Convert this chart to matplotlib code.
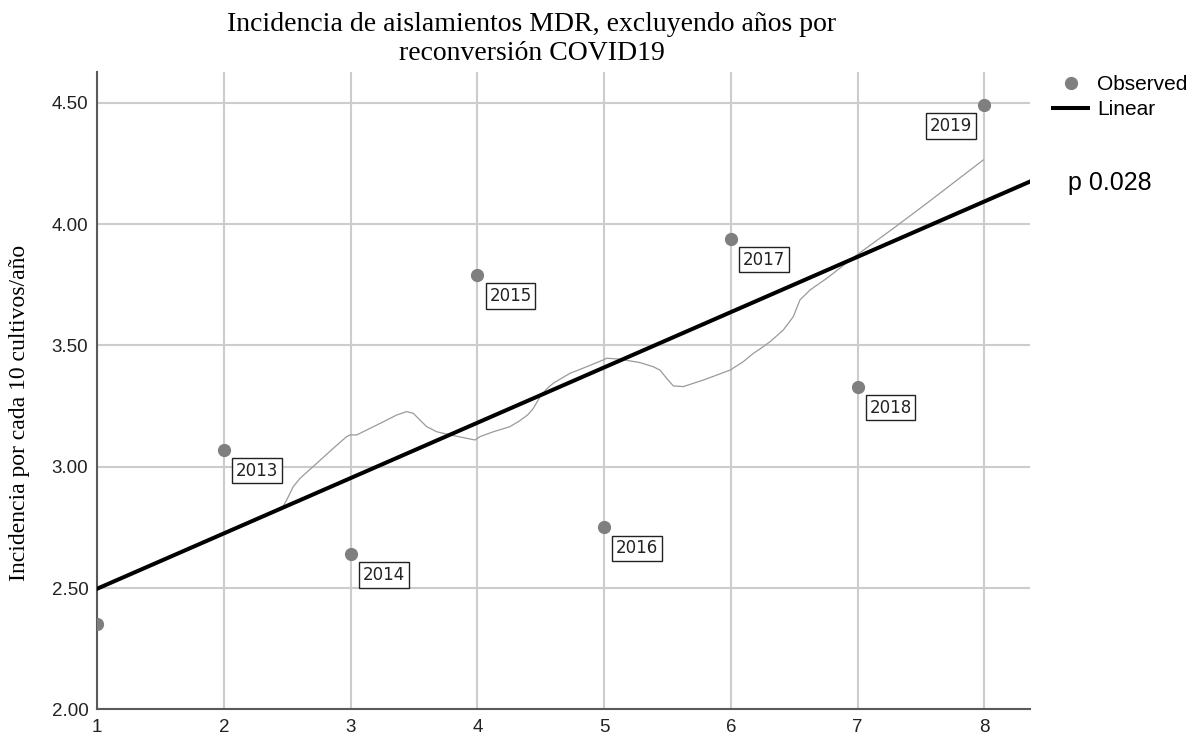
import numpy as np
import matplotlib
matplotlib.use("Agg")
import matplotlib.pyplot as plt
from matplotlib.lines import Line2D

# --- data ---
x_obs = [1, 2, 3, 4, 5, 6, 7, 8]
y_obs = [2.35, 3.07, 2.64, 3.79, 2.75, 3.94, 3.33, 4.49]
year_labels = ['', '2013', '2014', '2015', '2016', '2017', '2018', '2019']

# smoothed (loess) curve
loess_x = [2.470, 2.495, 2.547, 2.600, 2.732, 2.863, 2.968, 2.995, 3.047, 3.126,
           3.257, 3.363, 3.442, 3.494, 3.547, 3.600, 3.679, 3.784, 3.916, 3.981,
           4.021, 4.126, 4.257, 4.336, 4.400, 4.441, 4.494, 4.550, 4.599, 4.731,
           4.863, 4.994, 5.020, 5.125, 5.283, 5.388, 5.441, 5.494, 5.546, 5.625,
           5.783, 5.994, 6.099, 6.178, 6.230, 6.310, 6.414, 6.493, 6.546, 6.625,
           6.757, 6.994, 7.283, 7.546, 7.993]
loess_y = [2.840, 2.863, 2.918, 2.952, 3.014, 3.076, 3.124, 3.131, 3.131, 3.151,
           3.185, 3.213, 3.227, 3.220, 3.192, 3.165, 3.144, 3.131, 3.117, 3.110,
           3.124, 3.144, 3.165, 3.190, 3.215, 3.240, 3.288, 3.322, 3.344, 3.385,
           3.412, 3.440, 3.447, 3.443, 3.429, 3.412, 3.398, 3.364, 3.333, 3.330,
           3.357, 3.398, 3.433, 3.467, 3.485, 3.515, 3.563, 3.618, 3.687, 3.728,
           3.776, 3.872, 3.982, 4.085, 4.264]

x_ticks = [1, 2, 3, 4, 5, 6, 7, 8]
y_ticks = [2.0, 2.5, 3.0, 3.5, 4.0, 4.5]

title = "Incidencia de aislamientos MDR, excluyendo años por\nreconversión COVID19"
y_label = "Incidencia por cada 10 cultivos/año"
p_text = "p 0.028"

# --- figure ---
W, H = 1196, 736
fig = plt.figure(figsize=(W / 100, H / 100), dpi=100)
ax = fig.add_axes([97.3 / W, 1 - 709.4 / H, (1030 - 97.3) / W, (709.4 - 72) / H])

ax.set_xlim(1, 1 + (1030 - 97.3) / 126.7)
ax.set_ylim(2.0, 2.0 + (709.4 - 72) / 242.7)

ax.grid(True, color='#cccccc', linewidth=1.5, zorder=0)
for side in ['top', 'right']:
    ax.spines[side].set_visible(False)
for side in ['left', 'bottom']:
    ax.spines[side].set_color('#5a5a5a')
    ax.spines[side].set_linewidth(1.5)

ax.set_xticks(x_ticks)
ax.set_yticks(y_ticks)
ax.set_xticklabels([str(t) for t in x_ticks])
ax.set_yticklabels([f"{t:.2f}" for t in y_ticks])
ax.tick_params(length=0, labelsize=13.5, colors='#222222')
ax.tick_params(axis='y', pad=6.5)
ax.tick_params(axis='x', pad=7)
for lbl in ax.get_xticklabels() + ax.get_yticklabels():
    lbl.set_fontfamily('Liberation Sans')

# linear fit
slope, intercept = np.polyfit(x_obs, y_obs, 1)
fit_x = np.array([1, 9])
ax.plot(fit_x, intercept + slope * fit_x, color='black', linewidth=2.9, zorder=3)

# loess curve
ax.plot(loess_x, loess_y, color='#9a9a9a', linewidth=0.9, zorder=2,
        solid_joinstyle='round')

# observed points
ax.plot(x_obs, y_obs, 'o', color='#7f7f7f', markersize=8.5, zorder=4)

for xv, yv, lab in zip(x_obs, y_obs, year_labels):
    if not lab:
        continue
    if lab == '2019':
        off, ha = (-12, -12), 'right'
    else:
        off, ha = (12, -12), 'left'
    ax.annotate(lab, (xv, yv), xytext=off, textcoords='offset pixels',
                ha=ha, va='top', fontsize=12, family='DejaVu Sans', color='#222222',
                bbox=dict(boxstyle='square,pad=0.22', fc='white', ec='#222222', lw=1.0),
                zorder=5)

# title and axis label
fig.text(532 / W, 1 - 12 / H, title, ha='center', va='top', fontsize=20,
         family='Liberation Serif', linespacing=1.2)
fig.text(20 / W, 1 - 413 / H, y_label, rotation=90, ha='center', va='center',
         fontsize=17, family='Liberation Serif')

# legend
handles = [
    Line2D([0], [0], marker='o', linestyle='none', color='#7f7f7f', markersize=8.5),
    Line2D([0], [0], color='black', linewidth=2.9),
]
fig.legend(handles, ['Observed', 'Linear'], loc='upper left',
           bbox_to_anchor=(1053 / W, 1 - 75 / H), frameon=False,
           prop={'family': 'Liberation Sans', 'size': 15},
           handlelength=1.68, handletextpad=0.43, labelspacing=0.31,
           borderpad=0, borderaxespad=0)

fig.text(1068 / W, 1 - 183 / H, p_text, ha='left', va='center', fontsize=18,
         family='Liberation Sans')

fig.savefig('out.png', dpi=100)
